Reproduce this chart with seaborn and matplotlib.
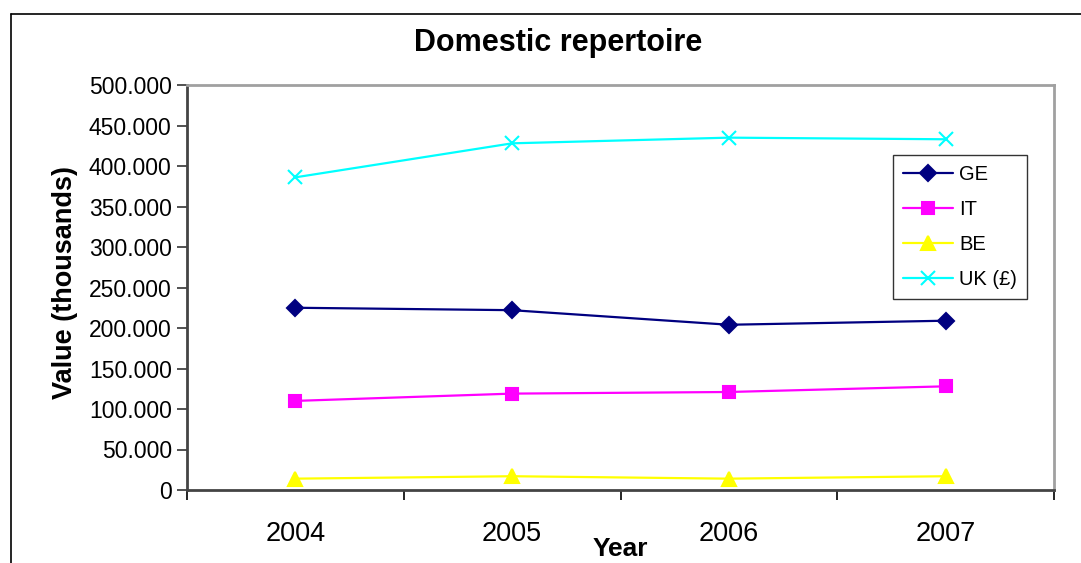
import matplotlib
matplotlib.use("Agg")
import matplotlib.pyplot as plt
from matplotlib.lines import Line2D
from matplotlib.ticker import FuncFormatter, FixedLocator
import seaborn as sns
import pandas as pd

years = ["2004", "2005", "2006", "2007"]
series = ["GE", "IT", "BE", "UK (£)"]
ge = [225000, 222000, 204000, 209000]
it = [110000, 119000, 121000, 128000]
be = [14000, 17000, 14000, 17000]
uk = [386000, 428000, 435000, 433000]

colors = {"GE": "#000080", "IT": "#FF00FF", "BE": "#FFFF00", "UK (£)": "#00FFFF"}
markers = {"GE": "D", "IT": "s", "BE": "^", "UK (£)": "x"}
msizes = {"GE": 8, "IT": 8.5, "BE": 10, "UK (£)": 10}

rows = []
for name, vals in zip(series, [ge, it, be, uk]):
    for i, v in enumerate(vals):
        rows.append({"pos": i, "Year": years[i], "series": name, "value": v})
df = pd.DataFrame(rows)

sns.set_style("white")
plt.rcParams["font.family"] = ["Liberation Sans", "DejaVu Sans"]
plt.rcParams["text.color"] = "black"
plt.rcParams["xtick.color"] = "black"
plt.rcParams["ytick.color"] = "black"

fig = plt.figure(figsize=(10.81, 5.63), dpi=100)
ax = fig.add_axes([187 / 1081, 1 - 490 / 563, 867 / 1081, 405 / 563])

# one line per series: mixed filled / line-art markers
for s in series:
    sns.lineplot(data=df[df["series"] == s], x="pos", y="value", color=colors[s],
                 marker=markers[s], markersize=msizes[s], markeredgewidth=1.5,
                 markeredgecolor=colors[s], linewidth=1.6, ax=ax, legend=False)

ax.set_xlim(-0.5, 3.5)
ax.set_ylim(0, 500000)
ax.yaxis.set_major_locator(FixedLocator(range(0, 500001, 50000)))
ax.yaxis.set_major_formatter(FuncFormatter(lambda v, p: f"{int(v):,}".replace(",", ".")))

# ticks between categories, labels at category centres
ax.xaxis.set_major_locator(FixedLocator([-0.5, 0.5, 1.5, 2.5, 3.5]))
ax.xaxis.set_minor_locator(FixedLocator([0, 1, 2, 3]))
ax.set_xticklabels([])
ax.set_xticklabels(years, minor=True)
ax.tick_params(axis="x", which="major", direction="out", length=7, width=1.2, color="#000000", bottom=True)
ax.tick_params(axis="x", which="minor", length=0, labelsize=19.5, labelcolor="black", pad=22)
ax.tick_params(axis="y", direction="out", length=7, width=1.2, color="#333333", left=True,
               labelsize=16.5, labelcolor="black", pad=4)

for side in ["left", "bottom"]:
    ax.spines[side].set_color("#444444")
    ax.spines[side].set_linewidth(2)
for side in ["top", "right"]:
    ax.spines[side].set_visible(True)
    ax.spines[side].set_color("#A0A0A0")
    ax.spines[side].set_linewidth(2)

ax.set_xlabel("")
ax.set_ylabel("")
fig.text(558 / 1081, 1 - 43 / 563, "Domestic repertoire", ha="center", va="center",
         fontsize=22, fontweight="bold", color="black")
fig.text(65 / 1081, 1 - 283 / 563, "Value (thousands)", ha="center", va="center",
         rotation=90, fontsize=19.5, fontweight="bold", color="black")
fig.text(620 / 1081, 1 - 549 / 563, "Year", ha="center", va="center",
         fontsize=19, fontweight="bold", color="black")

handles = [Line2D([0], [0], color=colors[s], marker=markers[s], linewidth=1.6,
                  markersize=msizes[s], markeredgewidth=1.5, markeredgecolor=colors[s])
           for s in series]
leg = ax.legend(handles, series, loc="upper left",
                bbox_to_anchor=((893 - 187) / 867, (490 - 155) / 405),
                frameon=True, fancybox=False, edgecolor="#000000", fontsize=14.5,
                handlelength=2.5, labelspacing=0.8, borderpad=0.5, handletextpad=0.3,
                borderaxespad=0)
leg.get_frame().set_linewidth(1.0)
for t in leg.get_texts():
    t.set_color("black")

# outer chart frame
fig.add_artist(Line2D([11 / 1081, 1], [1 - 14 / 563, 1 - 14 / 563], color="black", linewidth=1.2,
                      transform=fig.transFigure))
fig.add_artist(Line2D([11 / 1081, 11 / 1081], [0, 1 - 14 / 563], color="black", linewidth=1.2,
                      transform=fig.transFigure))

fig.savefig("out.png", dpi=100, facecolor="white")
